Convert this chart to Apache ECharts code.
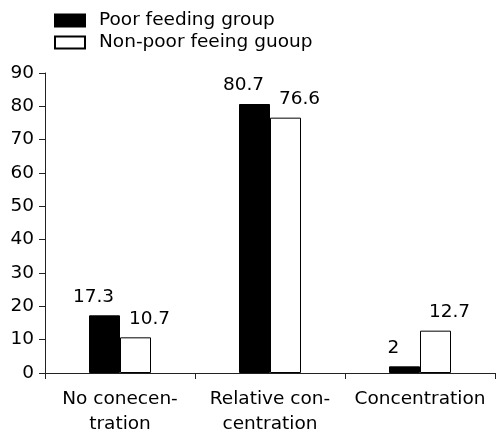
<!DOCTYPE html>
<html>
<head>
<meta charset="utf-8">
<script src="https://cdn.jsdelivr.net/npm/echarts@6/dist/echarts.min.js"></script>
<style>
  html, body { margin: 0; padding: 0; background: #fff; }
  #chart { width: 496px; height: 432px; }
</style>
</head>
<body>
<div id="chart"></div>
<script>
// data
const categories = ['No conecen-\ntration', 'Relative con-\ncentration', 'Concentration']
const poorFeeding = [17.3, 80.7, 2]
const nonPoorFeeding = [10.7, 76.6, 12.7]
const seriesNames = ['Poor feeding group', 'Non-poor feeing guoup']

const font = 'DejaVu Sans, sans-serif'
const fs = 18.5

const chart = echarts.init(document.getElementById('chart'))
const option = {
  animation: false,
  textStyle: { fontFamily: font, color: '#000' },
  legend: {
    orient: 'vertical',
    left: 54,
    top: 11,
    padding: 0,
    icon: 'rect',
    itemWidth: 30,
    itemHeight: 12,
    itemGap: 3,
    textStyle: { fontSize: fs, color: '#000', fontFamily: font, padding: [0, 0, 0, 9] },
    data: seriesNames,
  },
  grid: { left: 45, right: 1, top: 73, bottom: 59, outerBoundsMode: 'none' },
  xAxis: {
    type: 'category',
    data: categories,
    axisLine: { lineStyle: { color: '#222', width: 1 } },
    axisTick: { show: true, length: 6, lineStyle: { color: '#222' } },
    axisLabel: { interval: 0, fontSize: fs, color: '#000', margin: 14, lineHeight: 25, fontFamily: font },
  },
  yAxis: {
    type: 'value',
    min: 0,
    max: 90,
    interval: 10,
    splitLine: { show: false },
    axisLine: { show: true, lineStyle: { color: '#222', width: 1 } },
    axisTick: { show: true, length: 6, lineStyle: { color: '#222' } },
    axisLabel: { fontSize: fs, color: '#000', margin: 11, fontFamily: font },
  },
  series: [
    {
      name: seriesNames[0],
      type: 'bar',
      data: poorFeeding,
      barWidth: 31,
      barGap: '0%',
      itemStyle: { color: '#000', borderColor: '#000', borderWidth: 1 },
      label: { show: true, position: 'top', distance: 9, offset: [-11, 0], fontSize: fs, color: '#000', fontFamily: font },
    },
    {
      name: seriesNames[1],
      type: 'bar',
      data: nonPoorFeeding,
      barWidth: 31,
      barGap: '0%',
      itemStyle: { color: '#fff', borderColor: '#000', borderWidth: 1 },
      label: { show: true, position: 'top', distance: 9, offset: [14, 0], fontSize: fs, color: '#000', fontFamily: font },
    },
  ],
}
chart.setOption(option)
</script>
</body>
</html>
